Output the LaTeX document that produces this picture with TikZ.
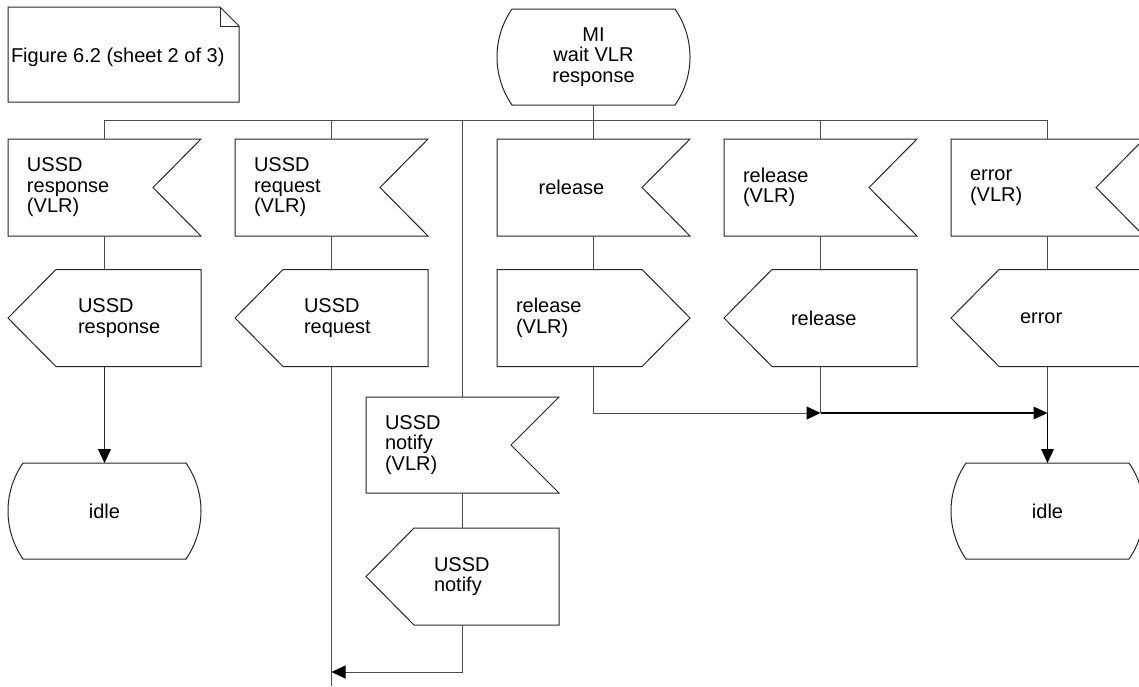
\documentclass[tikz,border=0pt]{standalone}
\usepackage{fontspec}
\setmainfont{Liberation Sans}
\usetikzlibrary{arrows.meta}
\tikzset{
  ln/.style={draw=black!70, line width=1pt},
  shp/.style={draw=black!85, line width=1pt, line join=miter},
  box/.style={minimum width=193pt, minimum height=97pt, inner sep=0pt, outer sep=0pt, align=center},
  txt/.style={inner sep=0pt, outer sep=0pt, align=left, anchor=west},
  arr/.style={ln, -{Triangle[length=14pt,width=13pt,color=black,fill=black]}},
  barr/.style={draw=black, line width=1.8pt, -{Triangle[length=14pt,width=13pt,line width=0pt]}},
}
\newcommand\SDLin[1]{\draw[shp] (#1.north west) -- (#1.north east) -- ([xshift=-48pt]#1.east) -- (#1.south east) -- (#1.south west) -- cycle;}
\newcommand\SDLoutL[1]{\draw[shp] (#1.west) -- ([xshift=48pt]#1.north west) -- (#1.north east) -- (#1.south east) -- ([xshift=48pt]#1.south west) -- cycle;}
\newcommand\SDLoutR[1]{\draw[shp] (#1.north west) -- ([xshift=-48pt]#1.north east) -- (#1.east) -- ([xshift=-48pt]#1.south east) -- (#1.south west) -- cycle;}
\newcommand\SDLstate[1]{\draw[shp] ([xshift=15pt]#1.north west) -- ([xshift=-15pt]#1.north east) .. controls ([xshift=5pt,yshift=-29pt]#1.north east) and ([xshift=5pt,yshift=29pt]#1.south east) .. ([xshift=-15pt]#1.south east) -- ([xshift=15pt]#1.south west) .. controls ([xshift=-5pt,yshift=29pt]#1.south west) and ([xshift=-5pt,yshift=-29pt]#1.north west) .. ([xshift=15pt]#1.north west) -- cycle;}
\begin{document}
\begin{tikzpicture}[x=1pt, y=-1pt, every node/.style={font=\fontsize{20}{20.5}\selectfont}]
\fill[white] (0,0) rectangle (1139,686);
\useasboundingbox (0,0) rectangle (1139,686);

% note
\node[box, minimum width=231pt, minimum height=95pt] (note) at (123.5,54.5) {};
\draw[shp] (note.south west) -- (note.north west) -- ([xshift=-19pt]note.north east) -- ([yshift=-19pt]note.north east) -- (note.south east) -- cycle;
\draw[shp] ([xshift=-19pt]note.north east) -- ([xshift=-19pt,yshift=-19pt]note.north east) -- ([yshift=-19pt]note.north east);
\node[txt] (notet) at ([xshift=3pt,yshift=-3pt]note.west) {Figure 6.2 (sheet 2 of 3)};

% start state
\node[box, minimum height=96pt] (mi) at (593.5,57) {MI\\wait VLR\\response};
\SDLstate{mi}

% input signals
\node[box] (in1) at (104.5,187.5) {};
\node[box] (in2) at (331.5,187.5) {};
\node[box] (in3) at (593.5,187.5) {};
\node[box] (in4) at (820.5,187.5) {};
\node[box] (in5) at (1047.5,187.5) {};
\SDLin{in1}\SDLin{in2}\SDLin{in3}\SDLin{in4}\SDLin{in5}
\node[txt] (in1t) at ([xshift=19pt]in1.west) {USSD\\response\\(VLR)};
\node[txt] (in2t) at ([xshift=19pt]in2.west) {USSD\\request\\(VLR)};
\node[inner sep=0pt] (in3t) at ([xshift=-22pt]in3.center) {release};
\node[txt] (in4t) at ([xshift=19pt]in4.west) {release\\(VLR)};
\node[txt] (in5t) at ([xshift=19pt]in5.west) {error\\(VLR)};

% output signals
\node[box] (out1) at (104.5,318) {};
\node[box] (out2) at (331.5,318) {};
\node[box] (out3) at (593.5,318) {};
\node[box] (out4) at (820.5,318) {};
\node[box] (out5) at (1047.5,318) {};
\SDLoutL{out1}\SDLoutL{out2}\SDLoutR{out3}\SDLoutL{out4}\SDLoutL{out5}
\node[txt] (out1t) at ([xshift=70pt]out1.west) {USSD\\response};
\node[txt] (out2t) at ([xshift=69pt]out2.west) {USSD\\request};
\node[txt] (out3t) at ([xshift=19pt]out3.west) {release\\(VLR)};
\node[txt] (out4t) at ([xshift=67pt]out4.west) {release};
\node[txt] (out5t) at ([xshift=69pt]out5.west) {error};

% notify branch
\node[box, minimum height=96pt] (nin) at (462.5,445) {};
\SDLin{nin}
\node[txt] (nint) at ([xshift=19pt]nin.west) {USSD\\notify\\(VLR)};
\node[box] (nout) at (462.5,576.5) {};
\SDLoutL{nout}
\node[txt] (noutt) at ([xshift=68pt]nout.west) {USSD\\notify};

% idle states
\node[box, minimum height=96pt] (idle1) at (104.5,511) {idle};
\node[box, minimum height=96pt] (idle2) at (1047.5,511) {idle};
\SDLstate{idle1}\SDLstate{idle2}

% connectors
\coordinate (busL) at (104.5,120);
\coordinate (busR) at (1047.5,120);
\draw[ln] (busL) -- (busR);
\draw[ln] (mi.south) -- (in3.north);
\foreach \n in {in1,in2,in4,in5,nin} \draw[ln] (\n.north |- busL) -- (\n.north);
\foreach \n in {1,...,5} \draw[ln] (in\n.south) -- (out\n.north);
\draw[arr, draw=black!85] (out1.south) -- (idle1.north);
\coordinate (b2) at (331.5,686);
\draw[ln] (out2.south) -- (b2);
\draw[ln] (nin.south) -- (nout.north);
\coordinate (j1) at (331.5,672);
\draw[arr] (nout.south) |- (j1);
\coordinate (m2) at (820.5,413);
\coordinate (m3) at (1047.5,413);
\draw[arr] (out3.south) |- (m2);
\draw[ln] (out4.south) -- (m2);
\draw[barr] (m2) -- (m3);
\draw[ln] (out5.south) -- (m3);
\draw[barr] (m3) -- (idle2.north);
\end{tikzpicture}
\end{document}
